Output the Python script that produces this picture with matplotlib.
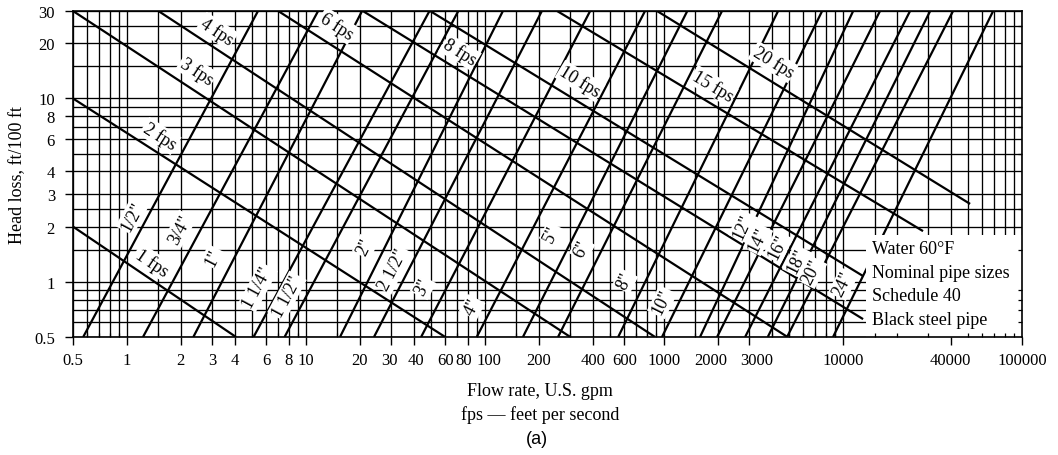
import numpy as np
import matplotlib
matplotlib.use("Agg")
import matplotlib.pyplot as plt
from matplotlib.ticker import FixedLocator, NullFormatter, FixedFormatter
from matplotlib.patches import Rectangle
from matplotlib.transforms import ScaledTranslation

plt.rcParams['font.family'] = ['Liberation Serif', 'DejaVu Serif']

# ---------------- data ----------------
pipe_sizes = ['1/2"', '3/4"', '1"', '1 1/4"', '1 1/2"', '2"', '2 1/2"', '3"', '4"', '5"',
              '6"', '8"', '10"', '12"', '14"', '16"', '18"', '20"', '24"']
# flow (gpm) where each pipe line meets head loss 0.5 and 30 ft/100 ft
pipe_q_low = [0.57, 1.23, 2.35, 5.1, 7.6, 15.5, 24, 44, 90, 163,
              256, 555, 975, 1590, 1980, 2840, 3800, 4870, 8800]
pipe_q_high = [5.4, 11.7, 20.6, 49, 71, 126, 208, 387, 784, 1350,
               2110, 4340, 7650, 11400, 16100, 23700, 30700, 41200, 69000]
pipe_h_low = 0.5
pipe_h_high = 30

vel_labels = ['1 fps', '2 fps', '3 fps', '4 fps', '6 fps', '8 fps', '10 fps', '15 fps', '20 fps']
vel_q_start = [0.5, 0.5, 0.5, 1.5, 7.0, 20.8, 49.4, 253, 915]
vel_h_start = [2, 10, 30, 30, 30, 30, 30, 30, 30]
vel_q_end = [4.07, 60, 300, 892, 4900, 12950, 12950, 28000, 51300]
vel_h_end = [0.5, 0.5, 0.5, 0.5, 0.5, 0.626, 1.075, 1.89, 2.66]

x_ticks = [0.5, 1, 2, 3, 4, 6, 8, 10, 20, 30, 40, 60, 80, 100, 200, 400, 600,
           1000, 2000, 3000, 10000, 40000, 100000]
x_tick_labels = ['0.5', '1', '2', '3', '4', '6', '8', '10', '20', '30', '40', '60', '80',
                 '100', '200', '400', '600', '1000', '2000', '3000', '10000', '40000', '100000']
y_ticks = [0.5, 1, 2, 3, 4, 6, 8, 10, 20, 30]
y_tick_labels = ['0.5', '1', '2', '3', '4', '6', '8', '10', '20', '30']

legend_lines = ['Water 60°F', 'Nominal pipe sizes', 'Schedule 40', 'Black steel pipe']

# ---------------- label placement (layout) ----------------
vel_label_q = [1.38, 1.53, 2.46, 3.19, 14.9, 72.6, 340, 1880, 4070]
vel_label_h = [1.28, 6.24, 14.1, 23.3, 24.9, 17.9, 12.45, 11.7, 15.8]
pipe_label_q = [1.07, 1.98, 3.03, 5.40, 7.84, 21.4, 30.7, 45.1, 84.8, 237,
                349, 606, 976, 2770, 3355, 4340, 5540, 6720, 10020]
pipe_label_h = [2.28, 1.94, 1.36, 0.936, 0.836, 1.55, 1.17, 0.936, 0.728, 1.82,
                1.51, 1.01, 0.775, 2.01, 1.71, 1.55, 1.30, 1.13, 0.972]
# small horizontal nudges (px) of crowded tick labels
x_label_nudge = {'30': -2, '40': 2, '80': -4, '100': 4, '2000': -7, '3000': 7}

W, H = 1058, 456
fig = plt.figure(figsize=(W / 100, H / 100), dpi=100)
ax = fig.add_axes([73 / W, 1 - 338 / H, (1022 - 73) / W, (338 - 12) / H])
ax.set_xscale('log')
ax.set_yscale('log')
ax.set_xlim(0.5, 100000)
ax.set_ylim(0.5, 30)
ax.set_axisbelow(False)

# grid
xgrid = [m * 10.0 ** e for e in range(-1, 6) for m in (1, 1.5, 2, 3, 4, 5, 6, 7, 8, 9)
         if 0.5 <= m * 10.0 ** e <= 1e5]
ygrid = [m * 10.0 ** e for e in range(-1, 2) for m in (1, 1.5, 2, 2.5, 3, 4, 5, 6, 7, 8, 9)
         if 0.5 <= m * 10.0 ** e <= 30]
ax.vlines(xgrid, 0.5, 30, colors='black', lw=0.95, zorder=1)
ax.hlines(ygrid, 0.5, 1e5, colors='black', lw=0.95, zorder=1)

lw = 1.6
for ql, qh in zip(pipe_q_low, pipe_q_high):
    ax.plot([ql, qh], [pipe_h_low, pipe_h_high], color='black', lw=lw, zorder=2,
            solid_capstyle='butt')
for qs, hs, qe, he in zip(vel_q_start, vel_h_start, vel_q_end, vel_h_end):
    ax.plot([qs, qe], [hs, he], color='black', lw=lw, zorder=2, solid_capstyle='butt')

def angle(q0, h0, q1, h1):
    p0 = ax.transData.transform((q0, h0))
    p1 = ax.transData.transform((q1, h1))
    return np.degrees(np.arctan2(p1[1] - p0[1], p1[0] - p0[0]))

box = dict(boxstyle='square,pad=0.08', fc='white', ec='none')
for i, lab in enumerate(vel_labels):
    rot = angle(vel_q_start[i], vel_h_start[i], vel_q_end[i], vel_h_end[i])
    ax.text(vel_label_q[i], vel_label_h[i], lab, rotation=rot, rotation_mode='anchor',
            ha='center', va='center', fontsize=13, bbox=box, zorder=3)
for i, lab in enumerate(pipe_sizes):
    rot = angle(pipe_q_low[i], pipe_h_low, pipe_q_high[i], pipe_h_high)
    ax.text(pipe_label_q[i], pipe_label_h[i], lab, rotation=rot, rotation_mode='anchor',
            ha='center', va='center', fontsize=13, bbox=box, zorder=3)

# legend box
ax.add_patch(Rectangle((0.8356, 0), 1 - 0.8356, 0.313, transform=ax.transAxes,
                       fc='white', ec='none', zorder=2.2))
for txt, yy in zip(legend_lines, [0.270, 0.199, 0.126, 0.055]):
    ax.text(0.842, yy, txt, transform=ax.transAxes, ha='left', va='center',
            fontsize=13, zorder=3)

# ticks
ax.xaxis.set_major_locator(FixedLocator(x_ticks))
ax.xaxis.set_major_formatter(FixedFormatter(x_tick_labels))
ax.yaxis.set_major_locator(FixedLocator(y_ticks))
ax.yaxis.set_major_formatter(FixedFormatter(y_tick_labels))
ax.xaxis.set_minor_locator(FixedLocator(xgrid))
ax.yaxis.set_minor_locator(FixedLocator(ygrid))
ax.xaxis.set_minor_formatter(NullFormatter())
ax.yaxis.set_minor_formatter(NullFormatter())
ax.tick_params(which='major', direction='out', length=6, width=1, labelsize=12,
               colors='black')
ax.tick_params(axis='x', which='major', pad=5)
ax.tick_params(axis='y', which='major', pad=7)
ax.tick_params(which='minor', direction='in', length=3, width=0.9,
               bottom=True, left=False, right=True, top=False)
for s in ax.spines.values():
    s.set_linewidth(1.2)
    s.set_color('black')

fig.canvas.draw()
for lbl in ax.get_xticklabels():
    d = x_label_nudge.get(lbl.get_text())
    if d:
        lbl.set_transform(lbl.get_transform() +
                          ScaledTranslation(d / 100, 0, fig.dpi_scale_trans))

fig.text(18 / W, 1 - 175 / H, 'Head loss, ft/100 ft', rotation=90, ha='center',
         va='center', fontsize=13)
fig.text(540 / W, 1 - 392 / H, 'Flow rate, U.S. gpm', ha='center', va='center', fontsize=13)
fig.text(540 / W, 1 - 415 / H, 'fps \u2014 feet per second', ha='center', va='center',
         fontsize=13)
fig.text(537 / W, 1 - 440 / H, '(a)', ha='center', va='center', fontsize=13,
         family=['Liberation Sans', 'DejaVu Sans'])

fig.savefig('out.png', dpi=100)
